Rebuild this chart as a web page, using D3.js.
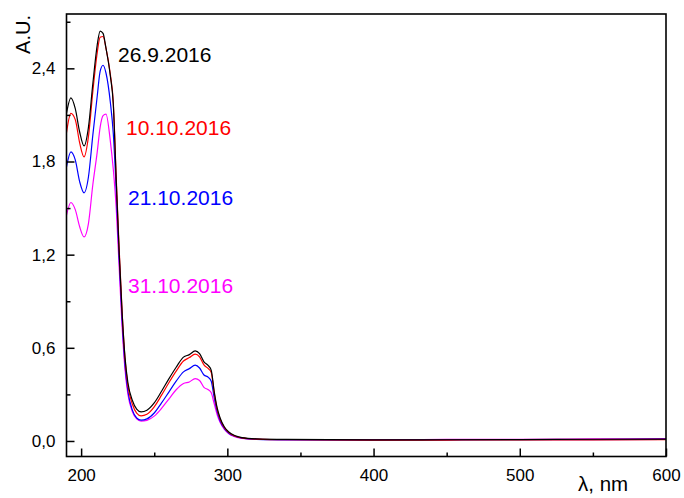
<!DOCTYPE html>
<html>
<head>
<meta charset="utf-8">
<script src="https://cdn.jsdelivr.net/npm/d3@7"></script>
<style>
  html, body { margin: 0; padding: 0; background: #fff; }
  svg { display: block; font-family: "Liberation Sans", Arial, sans-serif; }
</style>
</head>
<body>
<svg id="chart" width="684" height="498"></svg>
<script>
// Wavelength grid (nm) shared by all spectra
const wavelengths = [190,193,196,199,202,205,208,211,213,215,217,220,222,224,226,228,230,232,235,238,241,245,250,255,260,265,270,274,278,281,284,287,289,291,293,295,298,301,305,310,320,340,400,450,500,550,600];

// Absorbance (A.U.) per measurement date
const abs_26_9 = [2.11,2.21,2.14,1.99,1.90,2.02,2.30,2.55,2.64,2.625,2.53,2.35,2.17,1.68,1.22,0.83,0.54,0.375,0.262,0.205,0.187,0.198,0.245,0.32,0.40,0.475,0.54,0.556,0.58,0.562,0.51,0.485,0.455,0.32,0.215,0.15,0.09,0.058,0.035,0.022,0.014,0.01,0.007,0.008,0.009,0.011,0.012];
const abs_10_10 = [1.985,2.11,2.07,1.92,1.83,1.96,2.25,2.50,2.60,2.605,2.53,2.36,2.18,1.70,1.24,0.84,0.53,0.355,0.238,0.18,0.162,0.172,0.22,0.295,0.375,0.45,0.515,0.537,0.559,0.542,0.49,0.466,0.44,0.31,0.205,0.142,0.086,0.054,0.032,0.02,0.012,0.008,0.006,0.006,0.007,0.007,0.008];
const abs_21_10 = [1.765,1.862,1.81,1.67,1.598,1.70,1.97,2.22,2.38,2.42,2.37,2.18,1.98,1.62,1.18,0.79,0.49,0.32,0.2,0.148,0.134,0.142,0.18,0.245,0.315,0.385,0.445,0.466,0.488,0.47,0.425,0.41,0.385,0.28,0.19,0.13,0.08,0.05,0.03,0.018,0.01,0.007,0.006,0.007,0.008,0.009,0.01];
const abs_31_10 = [1.454,1.536,1.49,1.38,1.314,1.40,1.65,1.86,2.02,2.095,2.105,1.93,1.75,1.50,1.12,0.74,0.46,0.3,0.19,0.142,0.128,0.133,0.16,0.21,0.27,0.33,0.37,0.38,0.402,0.39,0.345,0.33,0.31,0.24,0.17,0.12,0.075,0.047,0.028,0.017,0.011,0.009,0.009,0.01,0.011,0.013,0.015];

const seriesNames = ["26.9.2016","10.10.2016","21.10.2016","31.10.2016"];
const seriesColors = ["#000000","#ff0000","#0000ff","#ff00ff"];
const seriesValues = [abs_26_9, abs_10_10, abs_21_10, abs_31_10];

const xMajorTicks = [200,300,400,500,600];
const xMinorTicks = [250,350,450,550];
const yMajorTicks = [0,0.6,1.2,1.8,2.4];
const yMinorTicks = [0.3,0.9,1.5,2.1,2.7];
const yTickLabels = ["0,0","0,6","1,2","1,8","2,4"];

const svg = d3.select("#chart");
const plotLeft = 66.5, plotRight = 666, plotTop = 14, plotBottom = 456.5;

const x = d3.scaleLinear().domain([190, 600]).range([plotLeft, plotRight]);
const y = d3.scaleLinear().domain([-0.1, 2.75]).range([plotBottom, plotTop]);

// Spectra
const line = d3.line()
  .x((d, i) => x(wavelengths[i]))
  .y(d => y(d))
  .curve(d3.curveMonotoneX);

const plot = svg.append("g");
plot.append("clipPath").attr("id", "clip")
  .append("rect").attr("x", plotLeft).attr("y", plotTop)
  .attr("width", plotRight - plotLeft).attr("height", plotBottom - plotTop);

const curves = plot.append("g").attr("clip-path", "url(#clip)");
// draw the lowest spectrum first so the top ones sit above
for (let s = seriesValues.length - 1; s >= 0; s--) {
  curves.append("path")
    .datum(seriesValues[s])
    .attr("fill", "none")
    .attr("stroke", seriesColors[s])
    .attr("stroke-width", 1.2)
    .attr("d", line);
}

// Bottom axis: ticks pointing inside the frame
const xAxis = d3.axisBottom(x).tickValues(xMajorTicks).tickSizeInner(-8).tickSizeOuter(0).tickFormat(d3.format("d"));
const gx = svg.append("g").attr("transform", `translate(0,${plotBottom})`).call(xAxis);
gx.select(".domain").remove();
gx.selectAll(".tick line").attr("stroke", "#000").attr("stroke-width", 1.5);
gx.selectAll(".tick text").attr("y", 12).attr("font-size", 17).attr("font-family", "Liberation Sans, Arial, sans-serif").attr("fill", "#000");

const xMinor = d3.axisBottom(x).tickValues(xMinorTicks).tickSizeInner(-4).tickSizeOuter(0).tickFormat("");
const gxm = svg.append("g").attr("transform", `translate(0,${plotBottom})`).call(xMinor);
gxm.select(".domain").remove();
gxm.selectAll(".tick line").attr("stroke", "#000").attr("stroke-width", 1.5);

// Left axis
const yAxis = d3.axisLeft(y).tickValues(yMajorTicks).tickSizeInner(-8).tickSizeOuter(0)
  .tickFormat((d, i) => yTickLabels[i]);
const gy = svg.append("g").attr("transform", `translate(${plotLeft},0)`).call(yAxis);
gy.select(".domain").remove();
gy.selectAll(".tick line").attr("stroke", "#000").attr("stroke-width", 1.5);
gy.selectAll(".tick text").attr("x", -11).attr("font-size", 17).attr("font-family", "Liberation Sans, Arial, sans-serif").attr("fill", "#000");

const yMinor = d3.axisLeft(y).tickValues(yMinorTicks).tickSizeInner(-4).tickSizeOuter(0).tickFormat("");
const gym = svg.append("g").attr("transform", `translate(${plotLeft},0)`).call(yMinor);
gym.select(".domain").remove();
gym.selectAll(".tick line").attr("stroke", "#000").attr("stroke-width", 1.5);

// Frame
svg.append("rect")
  .attr("x", plotLeft).attr("y", plotTop)
  .attr("width", plotRight - plotLeft).attr("height", plotBottom - plotTop)
  .attr("fill", "none").attr("stroke", "#000").attr("stroke-width", 1.6);

// Axis titles
svg.append("text")
  .attr("transform", `translate(30,${plotTop + 1}) rotate(-90)`)
  .attr("text-anchor", "end")
  .attr("font-size", 20)
  .text("A.U.");

svg.append("text")
  .attr("x", 578).attr("y", 491)
  .attr("font-size", 20.5)
  .text("λ, nm");

// Date labels next to the spectra
const labelPos = [[118, 62], [126, 135], [128, 205], [128, 293]];
seriesNames.forEach((name, i) => {
  svg.append("text")
    .attr("x", labelPos[i][0]).attr("y", labelPos[i][1])
    .attr("font-size", 21)
    .attr("fill", seriesColors[i])
    .text(name);
});
</script>
</body>
</html>
